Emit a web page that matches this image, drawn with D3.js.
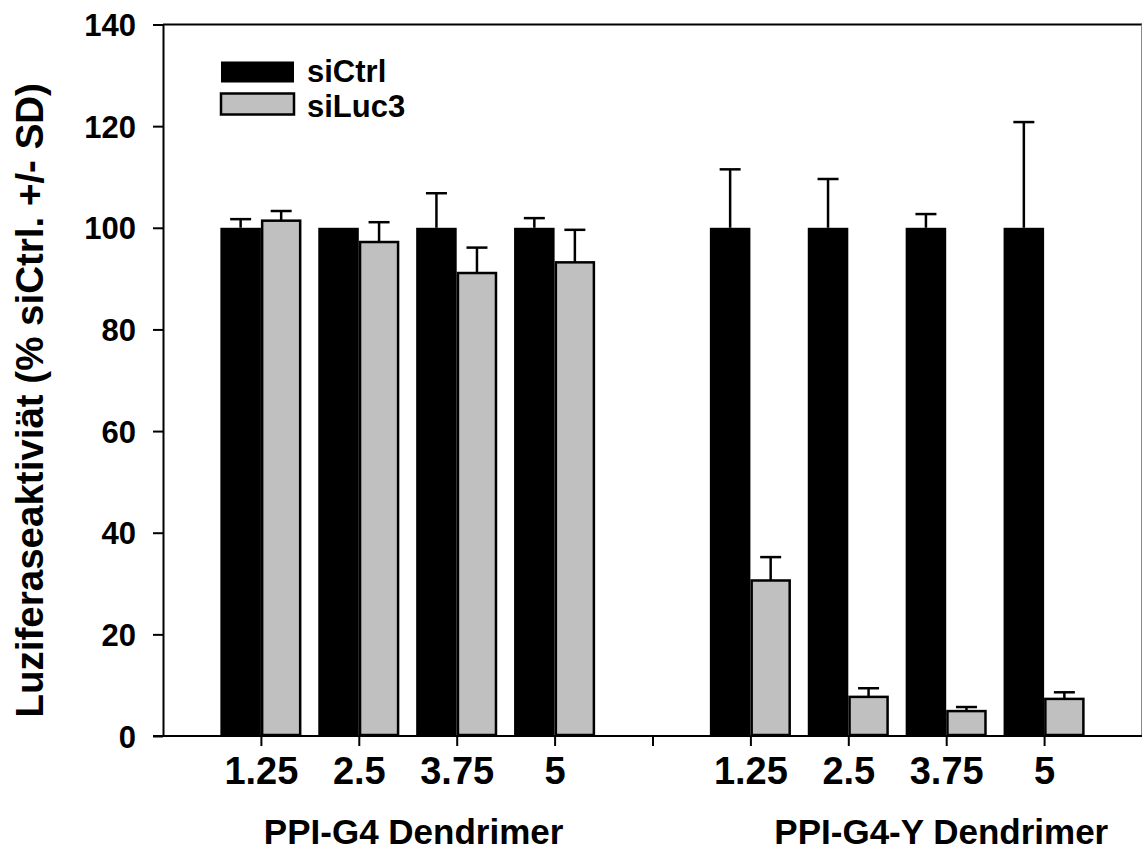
<!DOCTYPE html>
<html>
<head>
<meta charset="utf-8">
<script src="https://cdn.jsdelivr.net/npm/d3@7"></script>
<style>
    body { margin: 0; background: #fff; }
    svg { display: block; }
    text { font-family: "Liberation Sans", Arial, sans-serif; font-weight: bold; fill: #000; }
    .axis path, .axis line { stroke: #000; stroke-width: 2px; }
    .axis text { font-family: "Liberation Sans", Arial, sans-serif; font-weight: bold; }
</style>
</head>
<body>
<svg id="chart" width="1142" height="857"></svg>
<script>
// doses per dendrimer group (x tick labels)
let doses = ['1.25', '2.5', '3.75', '5'];
let groups = ['PPI-G4 Dendrimer', 'PPI-G4-Y Dendrimer'];
let seriesNames = ['siCtrl', 'siLuc3'];

// values, group 1 then group 2
let ctrlMean = [100, 100, 100, 100, 100, 100, 100, 100];
let ctrlSD = [1.7, 0, 6.8, 1.9, 11.5, 9.6, 2.7, 20.8];
let lucMean = [101.4, 97.2, 91.1, 93.2, 30.6, 7.7, 4.9, 7.3];
let lucSD = [1.9, 3.9, 5.0, 6.4, 4.6, 1.7, 0.8, 1.3];

let yTicks = [0, 20, 40, 60, 80, 100, 120, 140];
let yTitle = 'Luziferaseaktiviät (% siCtrl. +/- SD)';

let barChart = function(){

    this._selection = null;
    this._margin = null;
    this._size = null;

    this.selection = function(){
        if (arguments.length > 0){
            this._selection = arguments[0];
            return this;
        } else return this._selection;
    }

    this.size = function(){
        if (arguments.length > 0){
            this._size = arguments[0];
            return this;
        } else return this._size;
    }

    this.margin = function(){
        if (arguments.length > 0){
            this._margin = arguments[0];
            return this;
        } else return this._margin;
    }

    this.draw = function(){
        let m = this._margin;
        let w = this._size.w - m.l - m.r;
        let h = this._size.h - m.t - m.b;
        let svg = this._selection;
        let g = svg.append('g').attr('transform', `translate(${m.l}, ${m.t})`);

        // slot 1..4 = first group, 5 = gap, 6..9 = second group
        let xScale = d3.scaleLinear().domain([0, 10]).range([0, w]);
        let yScale = d3.scaleLinear().domain([0, 140]).range([h, 0]);
        let bw = xScale(0.414) - xScale(0);

        let rows = doses.concat(doses).map((d, i) => ({
            dose: d,
            slot: i < 4 ? i + 1 : i + 2,
            ctrl: ctrlMean[i], ctrlSD: ctrlSD[i],
            luc: lucMean[i], lucSD: lucSD[i]
        }));

        // frame: top and right
        g.append('line')
            .attr('x1', 0).attr('x2', w)
            .attr('y1', yScale(140)).attr('y2', yScale(140))
            .attr('stroke', '#000').attr('stroke-width', 2);
        g.append('line')
            .attr('x1', w - 0.5).attr('x2', w - 0.5)
            .attr('y1', yScale(140)).attr('y2', h)
            .attr('stroke', '#888').attr('stroke-width', 1);

        // error bars (upper only), drawn first so bars sit on top
        let errs = [];
        rows.forEach(r => {
            if (r.ctrlSD > 0) errs.push({cx: xScale(r.slot) - bw / 2, m: r.ctrl, sd: r.ctrlSD});
            if (r.lucSD > 0) errs.push({cx: xScale(r.slot) + bw / 2, m: r.luc, sd: r.lucSD});
        });
        let eg = g.selectAll('.err').data(errs).join('g').classed('err', true);
        eg.append('line')
            .attr('x1', d => d.cx).attr('x2', d => d.cx)
            .attr('y1', d => yScale(d.m)).attr('y2', d => yScale(d.m + d.sd))
            .attr('stroke', '#000').attr('stroke-width', 2.5);
        eg.append('line')
            .attr('x1', d => d.cx - 10.5).attr('x2', d => d.cx + 10.5)
            .attr('y1', d => yScale(d.m + d.sd)).attr('y2', d => yScale(d.m + d.sd))
            .attr('stroke', '#000').attr('stroke-width', 2.5);

        g.selectAll('.ctrlRect').data(rows)
            .join('rect')
            .classed('ctrlRect', true)
            .attr('x', d => xScale(d.slot) - bw)
            .attr('y', d => yScale(d.ctrl))
            .attr('width', bw)
            .attr('height', d => h - yScale(d.ctrl))
            .attr('fill', '#000');

        g.selectAll('.lucRect').data(rows)
            .join('rect')
            .classed('lucRect', true)
            .attr('x', d => xScale(d.slot) + 1.25)
            .attr('y', d => yScale(d.luc))
            .attr('width', bw - 2.5)
            .attr('height', d => h - yScale(d.luc) - 1)
            .attr('fill', '#c0c0c0')
            .attr('stroke', '#000')
            .attr('stroke-width', 2.5);

        this.drawAxes(g, xScale, yScale, w, h);
        this.drawLegend(g, yScale);

        // group titles
        g.selectAll('.groupTitle').data(groups)
            .join('text')
            .classed('groupTitle', true)
            .attr('x', (d, i) => xScale(i === 0 ? 2.56 : 7.95))
            .attr('y', h + 108)
            .attr('text-anchor', 'middle')
            .style('font-size', '35px')
            .text(d => d);

        svg.append('text')
            .attr('transform', `translate(43, ${m.t + h / 2 + 20}) rotate(-90)`)
            .attr('text-anchor', 'middle')
            .style('font-size', '38.5px')
            .text(yTitle);
    }

    this.drawAxes = function(g, xScale, yScale, w, h){
        let yAxis = d3.axisLeft(yScale)
            .tickValues(yTicks)
            .tickSize(10)
            .tickSizeOuter(0)
            .tickPadding(17);
        let ya = g.append('g').classed('axis', true).call(yAxis);
        ya.selectAll('text').style('font-size', '31px').attr('dy', '0.36em');

        let xAxis = d3.axisBottom(xScale)
            .tickValues(d3.range(1, 10))
            .tickFormat(v => v < 5 ? doses[v - 1] : (v > 5 ? doses[v - 6] : ''))
            .tickSize(10)
            .tickSizeOuter(0)
            .tickPadding(11);
        let xa = g.append('g').classed('axis', true)
            .attr('transform', `translate(0, ${h})`)
            .call(xAxis);
        xa.select('.domain').attr('d', `M${-10},0H${w}`);
        xa.selectAll('text').style('font-size', '38px');
    }

    this.drawLegend = function(g, yScale){
        let items = seriesNames.map((s, i) => ({name: s, fill: i === 0 ? '#000' : '#c0c0c0'}));
        let lg = g.append('g').attr('transform', 'translate(58, 37)');
        let row = lg.selectAll('.legendRow').data(items)
            .join('g')
            .classed('legendRow', true)
            .attr('transform', (d, i) => `translate(0, ${i * 32})`);
        row.append('rect')
            .attr('x', 0).attr('y', 0)
            .attr('width', 73).attr('height', 21)
            .attr('fill', d => d.fill)
            .attr('stroke', '#000')
            .attr('stroke-width', (d, i) => i === 0 ? 0 : 2.5);
        row.append('text')
            .attr('x', 86)
            .attr('y', (d, i) => i === 0 ? 20 : 23)
            .style('font-size', '31px')
            .text(d => d.name);
    }
}

let chart = new barChart()
    .selection(d3.select('#chart'))
    .size({w: 1142, h: 857})
    .margin({l: 163, r: 0, t: 24.5, b: 121})
    .draw();
</script>
</body>
</html>
